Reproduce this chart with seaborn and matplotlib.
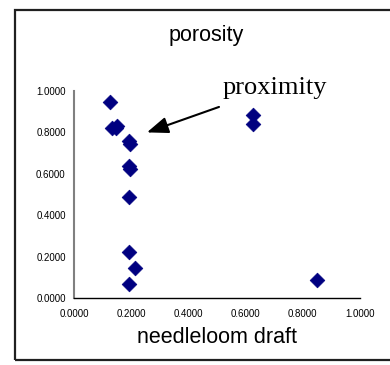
import matplotlib
matplotlib.use("Agg")
import matplotlib.pyplot as plt
import seaborn as sns
import pandas as pd
from matplotlib.patches import Rectangle
from matplotlib.ticker import FormatStrFormatter

sns.set_style("white")
plt.rcParams['font.family'] = ['Liberation Sans', 'DejaVu Sans']
plt.rcParams['text.color'] = 'black'
plt.rcParams['xtick.labelcolor'] = 'black'
plt.rcParams['ytick.labelcolor'] = 'black'
plt.rcParams['axes.labelcolor'] = 'black'

# needleloom draft vs porosity samples
draft = [0.126, 0.132, 0.151, 0.146, 0.193, 0.195, 0.193, 0.195, 0.193, 0.194, 0.214, 0.193, 0.626, 0.627, 0.848]
porosity = [0.945, 0.823, 0.830, 0.820, 0.760, 0.745, 0.637, 0.623, 0.489, 0.223, 0.144, 0.068, 0.884, 0.840, 0.085]
x_ticks = [0.0, 0.2, 0.4, 0.6, 0.8, 1.0]
y_ticks = [0.0, 0.2, 0.4, 0.6, 0.8, 1.0]

df = pd.DataFrame({"draft": draft, "porosity": porosity})

fig = plt.figure(figsize=(3.9, 3.65), dpi=100)
ax = fig.add_axes([74 / 390, 1 - 298 / 365, 286 / 390, 207 / 365])

sns.scatterplot(data=df, x="draft", y="porosity", marker="D", s=56,
                color="#000080", edgecolor="#000080", linewidth=0.5, ax=ax)

ax.set_xlim(0, 1)
ax.set_ylim(0, 1)
ax.set_xticks(x_ticks)
ax.set_yticks(y_ticks)
ax.xaxis.set_major_formatter(FormatStrFormatter('%.4f'))
ax.yaxis.set_major_formatter(FormatStrFormatter('%.4f'))
ax.tick_params(axis='x', direction='in', length=3, width=0.8, color='black',
               labelsize=7, pad=8)
ax.tick_params(axis='y', direction='out', length=4, width=0.8, color='#808080',
               labelsize=7, pad=2)
ax.set_xlabel("needleloom draft", fontsize=15.5, labelpad=6)
ax.set_ylabel("")
for side in ("top", "right"):
    ax.spines[side].set_visible(False)
ax.spines["left"].set_color("#808080")
ax.spines["left"].set_linewidth(1.5)
ax.spines["bottom"].set_color("black")
ax.spines["bottom"].set_linewidth(1.0)

fig.text(206 / 390, 1 - 36 / 365, "porosity", ha="center", va="center", fontsize=15.5)

ax.text(0.521, 0.985, "proximity", ha="left", va="baseline", fontsize=19,
        family=["Liberation Serif", "DejaVu Serif"])
ax.annotate("", xy=(0.255, 0.80), xytext=(0.507, 0.923), textcoords="data",
            arrowprops=dict(arrowstyle="-|>,head_length=1.3,head_width=0.5",
                            color="black", lw=1.5, shrinkA=0, shrinkB=0))

fig.patches.append(Rectangle((15.5 / 390, 1 - 359.5 / 365), 1.0, 350 / 365,
                             transform=fig.transFigure, fill=False,
                             edgecolor="#202020", linewidth=1.6))

fig.savefig("out.png", dpi=100)
